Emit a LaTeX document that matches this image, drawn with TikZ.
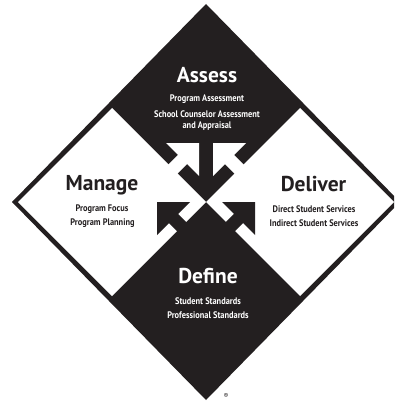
\documentclass[tikz,border=0pt]{standalone}
\usepackage{fontspec}
\setmainfont{PT Sans}
\newfontfamily\condfont{PT Sans}[FakeStretch=0.88]
\definecolor{ink}{HTML}{231F20}
\begin{document}
\begin{tikzpicture}[x=1pt,y=-1pt,
  title/.style={font=\fontsize{21.5}{21.5}\selectfont\bfseries, inner sep=0pt, anchor=base},
  sub/.style={font=\condfont\fontsize{9.5}{9.5}\selectfont\bfseries, inner sep=0pt, anchor=base},
  onblack/.style={text=white},
  onwhite/.style={text=ink},
]
\useasboundingbox (0,0) rectangle (394,401);
\clip (0,0) rectangle (394,401);
% whole diamond
\fill[ink] (206,4) -- (400,202) -- (206,400) -- (12,202) -- cycle;
% white quadrants
\fill[white] (18,202) -- (112,108) -- (206,202) -- (112,296) -- cycle;
\fill[white] (394,202) -- (300,108) -- (206,202) -- (300,296) -- cycle;
% black arrows from Define into Manage / Deliver
\fill[ink] (157,202) -- (190,202) -- (178.1,213.9) -- (209.9,245.7) -- (200.7,254.9) -- (168.9,223.1) -- (157,235) -- cycle;
\fill[ink] (255,202) -- (222,202) -- (233.9,213.9) -- (202.1,245.7) -- (211.3,254.9) -- (243.1,223.1) -- (255,235) -- cycle;
% white arrows from Manage / Deliver into Assess
\fill[white] (199,143) -- (199,176) -- (187.1,164.1) -- (155.3,195.9) -- (146.1,186.7) -- (177.9,154.9) -- (166,143) -- cycle;
\fill[white] (213,143) -- (213,176) -- (224.9,164.1) -- (256.7,195.9) -- (265.9,186.7) -- (234.1,154.9) -- (246,143) -- cycle;
% Assess
\node[title,onblack] (assess) at (207,82.7) {Assess};
\node[sub,onblack] (assess1) at (207,102) {Program Assessment};
\node[sub,onblack] (assess2) at (207,117.7) {School Counselor Assessment};
\node[sub,onblack] (assess3) at (207,128.7) {and Appraisal};
% Manage
\node[title,onwhite] (manage) at (102,190.5) {Manage};
\node[sub,onwhite] (manage1) at (102,211.7) {Program Focus};
\node[sub,onwhite] (manage2) at (102.5,225.5) {Program Planning};
% Deliver
\node[title,onwhite] (deliver) at (313.5,191.5) {Deliver};
\node[sub,onwhite] (deliver1) at (314,212.7) {Direct Student Services};
\node[sub,onwhite] (deliver2) at (314,226) {Indirect Student Services};
% Define
\node[title,onblack] (define) at (208,283.3) {Define};
\node[sub,onblack] (define1) at (208,304) {Student Standards};
\node[sub,onblack] (define2) at (208,318) {Professional Standards};
% registered mark
\node[font=\fontsize{7}{7}\selectfont, text=ink, inner sep=0pt] (reg) at (226,396) {®};
\end{tikzpicture}
\end{document}
